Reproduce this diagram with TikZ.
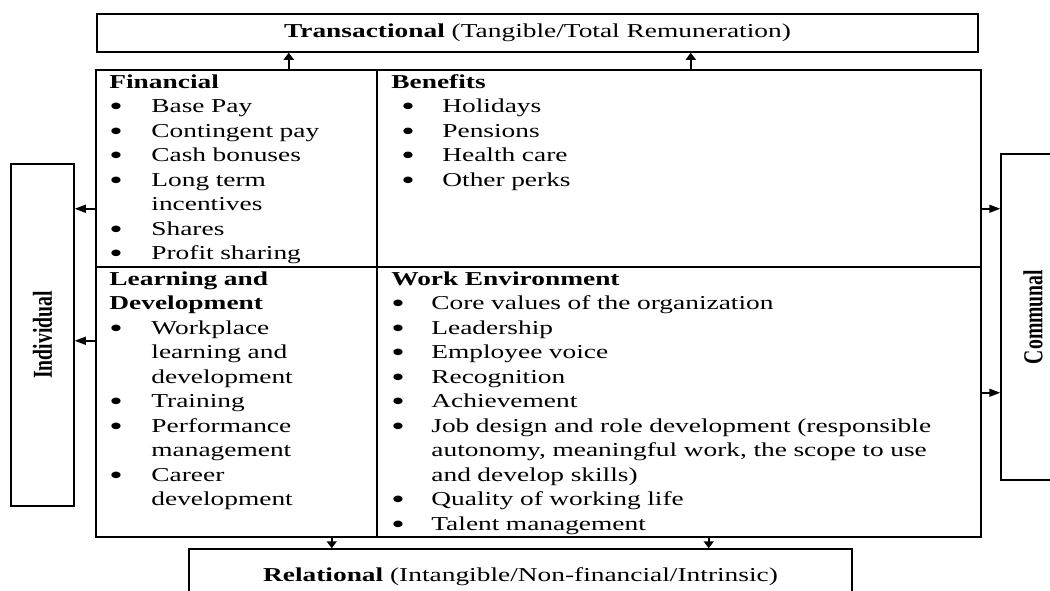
\documentclass[tikz,border=0pt]{standalone}
\usepackage{fontspec}
\setmainfont{Liberation Serif}[FakeStretch=1.39]
\newfontfamily\sidefont{Liberation Serif}
\usepackage{enumitem}
\usetikzlibrary{arrows.meta}

\setlist[itemize]{nosep, label=\raisebox{-1.5pt}{\scalebox{1.4}{\textbullet}}, align=left, labelsep=0pt, itemindent=0pt}
\hyphenpenalty=10000
\exhyphenpenalty=10000

% upright side labels, set tall so they stay in proportion once turned
\newcommand{\sidelabel}[1]{\rotatebox{90}{\scalebox{1}[1.39]{\sidefont\bfseries #1}}}

\tikzset{
  box/.style={draw, line width=0.75pt, inner sep=0pt},
  cellbox/.style={box, anchor=north west},
  cellnote/.style={anchor=base west, inner sep=0pt, align=left},
  vlink/.style={line width=0.75pt, -{Triangle[length=3.5pt,width=5pt]}},
  hlink/.style={line width=0.75pt, -{Triangle[length=5.5pt,width=4pt]}}
}

\begin{document}
\begin{tikzpicture}
  [
    x=0.5pt, y=-0.5pt,
    every node/.style={font=\fontsize{9.85}{12.25}\selectfont}
  ]
  \useasboundingbox (0,0) rectangle (1050,590);

  % the four reward quadrants
  \node[cellbox, minimum width=140.5pt, minimum height=98.5pt] (fin) at (95,69) {};
  \node[cellbox, minimum width=302pt, minimum height=98.5pt] (ben) at (376,69) {};
  \node[cellbox, minimum width=140.5pt, minimum height=135pt] (lrn) at (95,266) {};
  \node[cellbox, minimum width=302pt, minimum height=135pt] (wrk) at (376,266) {};

  \node[cellnote, text width=116pt] (finlist) at ([xshift=7pt,yshift=-9.5pt]fin.north west)
    {\textbf{Financial}
     \begin{itemize}[leftmargin=21pt, labelindent=0pt, labelwidth=21pt]
       \item Base Pay
       \item Contingent pay
       \item Cash bonuses
       \item Long term incentives
       \item Shares
       \item Profit sharing
     \end{itemize}};
  \node[cellnote, text width=280pt] (benlist) at ([xshift=7.5pt,yshift=-9.5pt]ben.north west)
    {\textbf{Benefits}
     \begin{itemize}[leftmargin=25.5pt, labelindent=5pt, labelwidth=20.5pt]
       \item Holidays
       \item Pensions
       \item Health care
       \item Other perks
     \end{itemize}};
  \node[cellnote, text width=116pt] (lrnlist) at ([xshift=7pt,yshift=-9.5pt]lrn.north west)
    {\textbf{Learning and Development}
     \begin{itemize}[leftmargin=21pt, labelindent=0pt, labelwidth=21pt]
       \item Workplace learning and development
       \item Training
       \item Performance management
       \item Career development
     \end{itemize}};
  \node[cellnote, text width=280pt] (wrklist) at ([xshift=7.5pt,yshift=-9.5pt]wrk.north west)
    {\textbf{Work Environment}
     \begin{itemize}[leftmargin=20pt, labelindent=0pt, labelwidth=20pt]
       \item Core values of the organization
       \item Leadership
       \item Employee voice
       \item Recognition
       \item Achievement
       \item Job design and role development (responsible autonomy, meaningful work, the scope to use and develop skills)
       \item Quality of working life
       \item Talent management
     \end{itemize}};

  % outer frames
  \node[box, minimum width=440.5pt, minimum height=19pt] (trans) at (537.5,33)
    {\textbf{Transactional} (Tangible/Total Remuneration)};
  \node[box, minimum width=331.5pt, minimum height=28pt] (rel) at (520.5,577)
    {\textbf{Relational} (Intangible/Non-financial/Intrinsic)};
  \node[box, minimum width=31.5pt, minimum height=171pt] (indiv) at (42.5,335)
    {\sidelabel{Individual}};
  \node[box, minimum width=32pt, minimum height=163pt] (comm) at (1033,317)
    {\sidelabel{Communal}};

  % arrows out of the grid
  \draw[vlink] ([xshift=26.25pt]fin.north) -- ([xshift=26.25pt]fin.north |- trans.south);
  \draw[vlink] ([xshift=6pt]ben.north) -- ([xshift=6pt]ben.north |- trans.south);
  \draw[vlink] ([xshift=47.75pt]lrn.south) -- ([xshift=47.75pt]lrn.south |- rel.north);
  \draw[vlink] ([xshift=15pt]wrk.south) -- ([xshift=15pt]wrk.south |- rel.north);
  \draw[hlink] ([yshift=-20.25pt]fin.west) -- ([yshift=-20.25pt]fin.west -| indiv.east);
  \draw[hlink] ([yshift=30.5pt]lrn.west) -- ([yshift=30.5pt]lrn.west -| indiv.east);
  \draw[hlink] ([yshift=-20.25pt]ben.east) -- ([yshift=-20.25pt]ben.east -| comm.west);
  \draw[hlink] ([yshift=4.5pt]wrk.east) -- ([yshift=4.5pt]wrk.east -| comm.west);
\end{tikzpicture}
\end{document}
